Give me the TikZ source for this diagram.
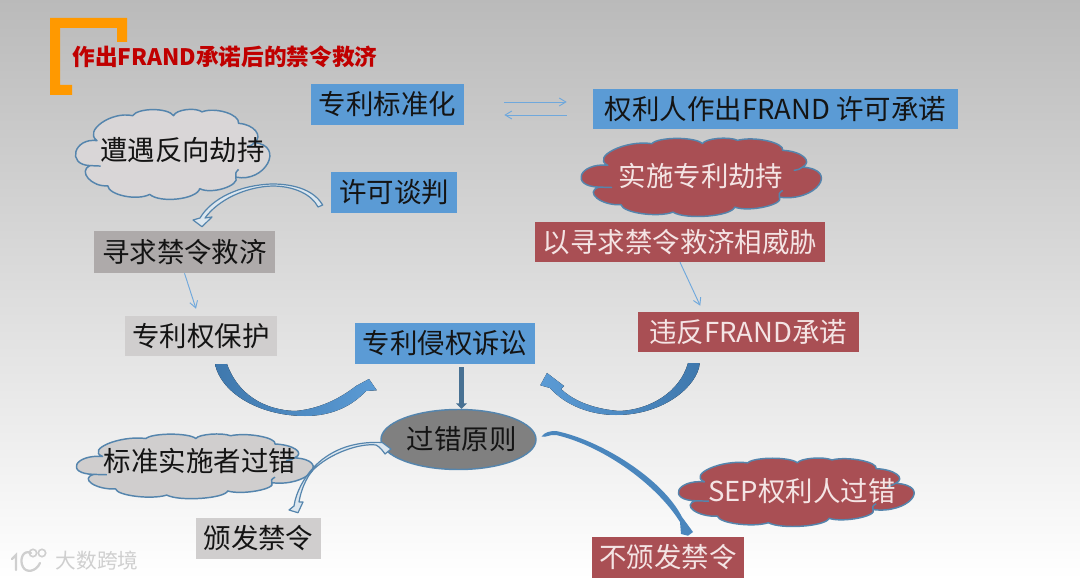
\documentclass[tikz,border=0pt]{standalone}
\usepackage{fontspec}
\setmainfont{Noto Sans CJK SC}
\usetikzlibrary{calc,shapes.geometric,arrows.meta}
\definecolor{bluebox}{HTML}{5B9BD5}
\definecolor{redbox}{HTML}{A94F54}
\definecolor{grayA}{HTML}{AEAAAA}
\definecolor{grayB}{HTML}{D0CECE}
\definecolor{edgeblue}{HTML}{5585AD}
\definecolor{arrowblue}{HTML}{4A86BD}
\definecolor{arrowdark}{HTML}{3F78AD}
\definecolor{lightline}{HTML}{6FA8DC}
\definecolor{redtext}{HTML}{F4E4E4}
\definecolor{titlered}{HTML}{C00000}
\definecolor{bracket}{HTML}{FF9900}
\definecolor{cloudgray}{HTML}{D9D6D7}
\definecolor{markgray}{HTML}{CFCFCF}
\tikzset{
  x=.75pt,y=-.75pt,
  boxsize/.style 2 args={minimum width=#1*.75pt,minimum height=#2*.75pt,inner sep=0pt},
  lbl/.style={font=\fontsize{20.6}{25}\selectfont,text=black!92},
  bluenode/.style={lbl,fill=bluebox},
  rednode/.style={lbl,fill=redbox,text=redtext},
  grayAnode/.style={lbl,fill=grayA},
  grayBnode/.style={lbl,fill=grayB},
  cloudtext/.style={lbl,inner sep=0pt},
  cloudline/.style={draw=edgeblue,line width=1.1pt,line join=round},
  thinarrow/.style={draw=lightline,line width=.7pt,-{Straight Barb[length=5pt,width=6pt]}},
  hollow/.style={draw=edgeblue,line width=.9pt,fill=white!80!edgeblue,line join=round},
}
% unit cloud: clockwise puffs, then small inner curls
\newcommand{\cloudpath}[5]{%
  \begin{scope}[shift={(#1,#2)},xscale=#3,yscale=#4]
    \path[cloudline,fill=#5] (.09,.34) to[bend left=75] (.29,.08) to[bend left=70] (.52,.08)
      to[bend left=65] (.68,.04) to[bend left=65] (.885,.16) to[bend left=60] (.975,.36)
      to[bend left=95,looseness=1.2] (.87,.72) to[bend left=75] (.667,.84) to[bend left=70] (.386,.90)
      to[bend left=65] (.15,.81) to[bend left=75] (.05,.60) to[bend left=95,looseness=1.3] cycle;
    \draw[cloudline] (.05,.60) -- (.11,.605);
    \draw[cloudline] (.935,.40) to[bend right=25] (.975,.36);
    \draw[cloudline] (.87,.72) to[bend left=20] (.885,.64);
  \end{scope}}
\begin{document}
\begin{tikzpicture}
\useasboundingbox (0,0) rectangle (1080,580);
\shade[top color=black!27,middle color=black!13,bottom color=white] (0,0) rectangle (1080,580);
% title bracket
\fill[bracket] (50,18) -- (127,18) -- (127,42) -- (117,42) -- (117,28) -- (60,28) -- (60,85) -- (72,85) -- (72,95) -- (50,95) -- cycle;
\node[font=\bfseries\fontsize{17}{20}\selectfont,text=titlered,inner sep=0pt] (title) at (225,57) {作出FRAND承诺后的禁令救济};
% clouds
\cloudpath{81}{108}{178}{96}{cloudgray}
\cloudpath{588}{137}{220}{83.5}{redbox}
\cloudpath{83}{433}{217}{69}{grayB}
\cloudpath{685}{457}{216}{73}{redbox}
\node[cloudtext] (c1) at (182.5,150) {遭遇反向劫持};
\node[cloudtext,text=redtext] (c2) at (701,176) {实施专利劫持};
\node[cloudtext] (c3) at (200,461) {标准实施者过错};
\node[cloudtext,text=redtext] (c4) at (802,491) {SEP权利人过错};
% boxes
\node[bluenode,boxsize={153}{41}] (std) at (387.5,104.5) {专利标准化};
\node[bluenode,boxsize={365}{40}] (own) at (775.5,109) {权利人作出FRAND 许可承诺};
\node[bluenode,boxsize={126}{41}] (talk) at (394,192.5) {许可谈判};
\node[grayAnode,boxsize={181}{42}] (seek) at (184.5,252) {寻求禁令救济};
\node[grayBnode,boxsize={152}{40}] (prot) at (201,336) {专利权保护};
\node[bluenode,boxsize={180}{41}] (suit) at (445,343.5) {专利侵权诉讼};
\node[grayBnode,boxsize={125}{41}] (grant) at (258.5,538.5) {颁发禁令};
\node[rednode,boxsize={290}{40}] (threat) at (680,242) {以寻求禁令救济相威胁};
\node[rednode,boxsize={220.5}{40}] (breach) at (748.25,332) {违反FRAND承诺};
\node[rednode,boxsize={152}{41}] (nogrant) at (668,557.5) {不颁发禁令};
\node[ellipse,lbl,fill=black!50,draw=edgeblue,line width=1.1pt,boxsize={155}{60}] (fault) at (458.5,439.5) {\makebox[0pt]{\hspace*{5pt}过错原则}};
% thin connectors
\draw[thinarrow,shorten <=30pt,shorten >=19.5pt] ($(std.east)+(0,-2.5)$) -- ($(own.west)+(0,-7)$);
\draw[thinarrow,shorten <=19.5pt,shorten >=30pt] ($(own.west)+(0,6)$) -- ($(std.east)+(0,10.5)$);
\draw[thinarrow] (seek.south) -- ($(prot.north)+(-5,-7)$);
\draw[thinarrow] (threat.south) -- ($(breach.north)+(-48,-6)$);
% suit to fault
\draw[draw=edgeblue!85!black,line width=3.6pt,-{Triangle[length=4pt,width=8pt]}] ($(suit.south)+(16.5,3)$) -- ($(fault.north)+(3,0)$);
% big swooshes
\coordinate (pa) at ($(prot.south)+(14,8)$);
\coordinate (sa) at ($(suit.south west)+(22,26)$);
\fill[left color=arrowdark,right color=bluebox]
  (pa) .. controls (222,395) and (262,416) .. (305,416) .. controls (332,416) and (352,406) .. (366,391)
  -- (sa) -- (369,379) -- (356,386) .. controls (338,400) and (318,409) .. (295,411)
  .. controls (265,410) and (238,395) .. (227,364) -- cycle;
\coordinate (pb) at ($(breach.south west)+(62,11)$);
\coordinate (sb) at ($(suit.south east)+(5,21)$);
\fill[left color=bluebox,right color=arrowdark]
  (pb) .. controls (698,385) and (665,415) .. (616,415) .. controls (590,415) and (565,405) .. (550,388)
  -- (sb) -- (547,373) -- (564,386) -- (561,389) .. controls (575,402) and (595,409) .. (619,411)
  .. controls (650,410) and (680,392) .. (688,363) -- cycle;
% hollow curved arrows
\coordinate (ta) at ($(talk.west)+(-8,12.5)$);
\coordinate (sk) at ($(seek.north)+(17.5,-4)$);
\path[hollow] (ta) .. controls (315,192) and (298,184) .. (272,184) .. controls (240,185) and (212,198) .. (200,218)
  -- (193,220) -- (sk) -- (212,217) -- (205,218) .. controls (218,200) and (245,187) .. (272,186)
  .. controls (295,186) and (312,195) .. (318,207) -- cycle;
\coordinate (fa) at ($(fault.west)+(2,3)$);
\coordinate (gr) at ($(grant.north)+(39.5,-5)$);
\path[hollow] (fa) .. controls (350,441) and (328,452) .. (313,468) .. controls (304,478) and (296,492) .. (294,506)
  -- (289,510) -- (gr) -- (303,502) -- (299,502) .. controls (301,490) and (306,478) .. (313,470)
  .. controls (330,453) and (360,443) .. (376,445) .. controls (380,447) and (383,451) .. (385,454) -- (391,449) -- cycle;
\coordinate (fb) at ($(fault.east)+(5,-3)$);
\coordinate (ng) at ($(nogrant.north)+(20,-1)$);
\fill[arrowblue] (fb) .. controls (545,432) and (550,431) .. (556,431) .. controls (600,440) and (662,478) .. (682,517)
  -- (693,532) -- (ng) -- (681,534) -- (680,522) .. controls (655,482) and (600,445) .. (556,435) .. controls (550,434) and (546,438) .. cycle;
% watermark
\begin{scope}[markgray,line width=1.7pt,line cap=round]
  \draw (12,559) -- (16,555) -- (16,570);
  \draw (31,553) .. controls (23,549) and (19,560) .. (23,567) .. controls (26,573) and (36,572) .. (40,563);
  \draw[line width=1.2pt] (33,553) circle (3.7);
  \draw[line width=1.2pt] (42,553) circle (3.7);
\end{scope}
\node[text=markgray,font=\fontsize{15.5}{18}\selectfont,inner sep=0pt] (mark) at (97,560.5) {大数跨境};
\end{tikzpicture}
\end{document}
